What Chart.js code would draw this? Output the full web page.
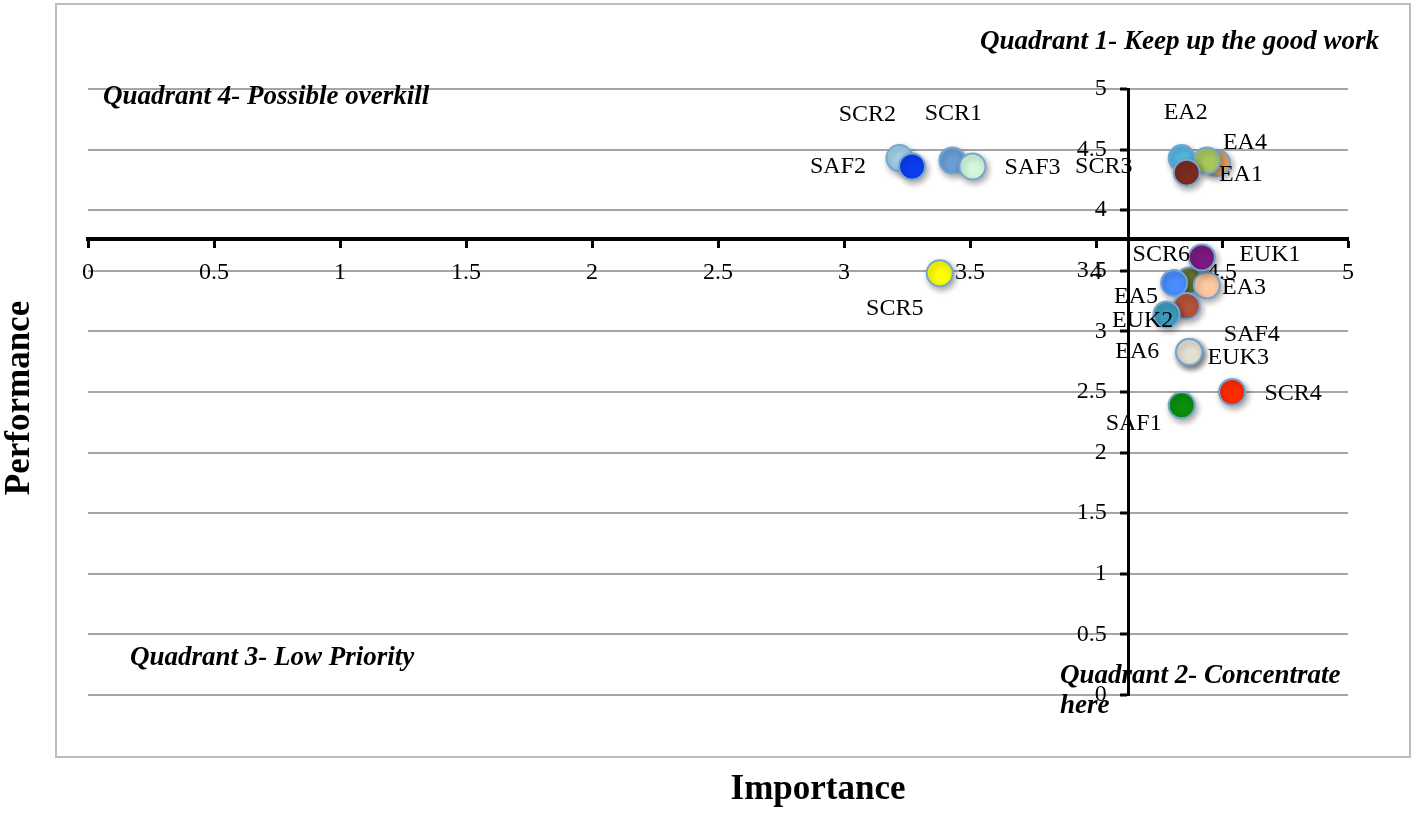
<!DOCTYPE html>
<html>
<head>
<meta charset="utf-8">
<script src="https://cdn.jsdelivr.net/npm/chart.js@4/dist/chart.umd.min.js"></script>
<style>
  body { margin: 0; background: #fff; }
  #wrap { position: relative; width: 1418px; height: 814px; }
  #frame { position: absolute; left: 55px; top: 3px; width: 1356px; height: 755px; border: 2px solid #bdbdbd; box-sizing: border-box; }
  canvas { position: absolute; left: 0; top: 0; }
</style>
</head>
<body>
<div id="wrap">
  <div id="frame"></div>
  <canvas id="ipaChart" width="1418" height="814"></canvas>
</div>
<script>
// attribute codes
var labels = ['SCR2', 'SAF2', 'SCR1', 'SAF3', 'SCR5', 'EA2', 'EA1', 'EA4', 'SCR3', 'SCR6',
              'EA5', 'EA3', 'SAF4', 'EUK2', 'EUK1', 'EA6', 'EUK3', 'SCR4', 'SAF1'];
var importance = [3.22, 3.27, 3.43, 3.51, 3.38, 4.34, 4.48, 4.44, 4.36, 4.37,
                  4.31, 4.44, 4.36, 4.28, 4.42, 4.37, 4.37, 4.54, 4.34];
var performance = [4.43, 4.36, 4.41, 4.36, 3.48, 4.43, 4.39, 4.41, 4.31, 3.42,
                   3.40, 3.38, 3.21, 3.14, 3.61, 2.83, 2.83, 2.50, 2.39];
var pointColors = ['#a3d0e6', '#0a3cf0', '#6a9fd6', '#d2f7dc', '#ffff00', '#55b6df', '#f4a85a', '#a8c75d', '#7d2a1f', '#6b7a34',
                   '#4a8cff', '#fdc9a1', '#b5523b', '#3b9cbc', '#7a1a7e', '#e4e1d3', '#e4e1d3', '#ff2a00', '#0b8f0b'];
// label offsets from point centre (px)
var labelOffsets = [[-32, -43], [-74, 0], [1, -47], [60, 1], [-45, 35], [4, -45], [24, 12], [38, -18], [-83, -6], [-28, -26],
                    [-38, 14], [37, 2], [65, 29], [-24, 6], [68, -3], [-52, 0], [49, 6], [61, 2], [-48, 18]];
var xTicks = [0, 0.5, 1, 1.5, 2, 2.5, 3, 3.5, 4, 4.5, 5];
var yTicks = [0, 0.5, 1, 1.5, 2, 2.5, 3, 3.5, 4, 4.5, 5];
var meanImportance = 4.13;
var meanPerformance = 3.76;

var serif = '"Liberation Serif", "Times New Roman", serif';

var points = importance.map(function (x, i) { return { x: x, y: performance[i] }; });

var shadowPlugin = {
    id: 'shadow',
    beforeDatasetDraw: function (chart) {
        var ctx = chart.ctx;
        ctx.save();
        ctx.shadowColor = 'rgba(0,0,0,0.35)';
        ctx.shadowBlur = 6;
        ctx.shadowOffsetX = 2;
        ctx.shadowOffsetY = 3;
    },
    afterDatasetDraw: function (chart) {
        chart.ctx.restore();
    }
};

// y tick labels sit left of the crossing axis, drawn here since a positioned axis ignores padding
var yLabelsPlugin = {
    id: 'yLabels',
    beforeDatasetsDraw: function (chart) {
        var ctx = chart.ctx;
        var axisX = chart.scales.x.getPixelForValue(meanImportance);
        ctx.save();
        ctx.fillStyle = '#000';
        ctx.font = '24px ' + serif;
        ctx.textAlign = 'right';
        ctx.textBaseline = 'middle';
        yTicks.forEach(function (v) {
            ctx.fillText(String(v), axisX - 22, chart.scales.y.getPixelForValue(v));
        });
        ctx.restore();
    }
};

var textPlugin = {
    id: 'texts',
    afterDraw: function (chart) {
        var ctx = chart.ctx;
        var meta = chart.getDatasetMeta(0);
        ctx.save();
        ctx.fillStyle = '#000';
        ctx.textAlign = 'center';
        ctx.textBaseline = 'middle';
        ctx.font = '24px ' + serif;
        meta.data.forEach(function (pt, i) {
            ctx.fillText(labels[i], pt.x + labelOffsets[i][0], pt.y + labelOffsets[i][1]);
        });

        // quadrant notes
        ctx.textAlign = 'left';
        ctx.font = 'italic bold 27px ' + serif;
        ctx.fillText('Quadrant 1- Keep up the good work', 980, 42);
        ctx.fillText('Quadrant 4- Possible overkill', 103, 97);
        ctx.fillText('Quadrant 3- Low Priority', 130, 658);
        ctx.fillText('Quadrant 2- Concentrate', 1060, 676);
        ctx.fillText('here', 1060, 706);

        // axis titles
        ctx.textAlign = 'center';
        ctx.font = 'bold 35px ' + serif;
        ctx.fillText('Importance', 818, 790);
        ctx.translate(20, 398);
        ctx.rotate(-Math.PI / 2);
        ctx.fillText('Performance', 0, 0);
        ctx.restore();
    }
};

function plainTick(value) { return String(value); }

var ctx = document.getElementById('ipaChart').getContext('2d');
new Chart(ctx, {
    type: 'scatter',
    data: {
        datasets: [{
            label: 'Attributes',
            data: points,
            backgroundColor: pointColors,
            borderColor: '#74a6d2',
            borderWidth: 2,
            pointRadius: 13,
            pointHoverRadius: 13
        }]
    },
    options: {
        responsive: false,
        animation: false,
        layout: { padding: { left: 88, right: 70, top: 89, bottom: 119 } },
        plugins: {
            legend: { display: false },
            tooltip: { enabled: false }
        },
        scales: {
            x: {
                type: 'linear',
                position: { y: meanPerformance },
                min: 0,
                max: 5,
                afterBuildTicks: function (axis) { axis.ticks = xTicks.map(function (v) { return { value: v }; }); },
                grid: { drawOnChartArea: false, drawTicks: true, tickLength: 7, tickWidth: 3, tickColor: '#000' },
                border: { display: true, color: '#000', width: 4 },
                ticks: { color: '#000', padding: 12, maxRotation: 0, callback: plainTick, font: { family: serif, size: 24 } }
            },
            y: {
                type: 'linear',
                position: { x: meanImportance },
                min: 0,
                max: 5,
                afterBuildTicks: function (axis) { axis.ticks = yTicks.map(function (v) { return { value: v }; }); },
                grid: { color: '#a6a6a6', lineWidth: 2, drawTicks: true, tickLength: 7, tickWidth: 3, tickColor: '#000' },
                border: { display: true, color: '#000', width: 3 },
                ticks: { display: false }
            }
        }
    },
    plugins: [shadowPlugin, yLabelsPlugin, textPlugin]
});
</script>
</body>
</html>
